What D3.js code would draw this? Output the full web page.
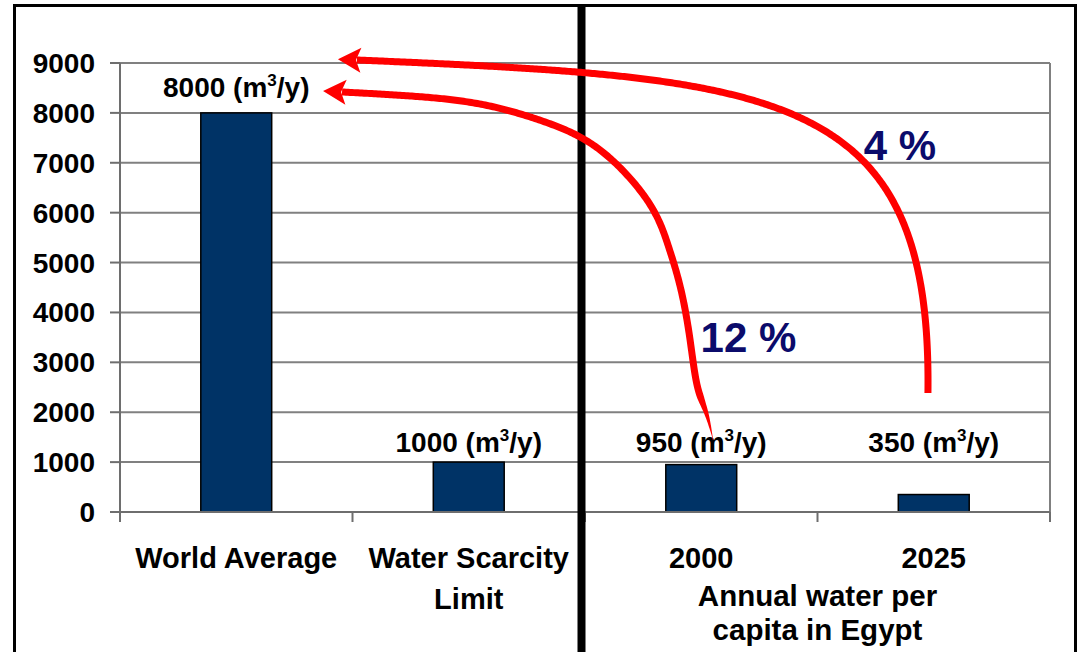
<!DOCTYPE html>
<html>
<head>
<meta charset="utf-8">
<script src="https://cdn.jsdelivr.net/npm/d3@7"></script>
<style>
  html, body { margin: 0; padding: 0; background: #ffffff; }
  svg { display: block; }
  text { font-family: "Liberation Sans", Arial, Helvetica, sans-serif; font-weight: bold; }
</style>
</head>
<body>
<svg id="chart" width="1078" height="652"></svg>
<script>
// ---- data ----
const categories = ["World Average", "Water Scarcity Limit", "2000", "2025"];
const categoryLines = [["World Average"], ["Water Scarcity", "Limit"], ["2000"], ["2025"]];
const values = [8000, 1000, 950, 350];
const unitLabel = ["(m", "3", "/y)"];
const yTicks = [0, 1000, 2000, 3000, 4000, 5000, 6000, 7000, 8000, 9000];
const groupTitle = ["Annual water per", "capita in Egypt"];

// growth annotations, points as [band units from the left edge, value], tail -> head
// outer arrow: one cubic Bezier (start, control 1, control 2, end)
const arrowOuter = [[3.475, 2385], [3.492, 8500], [2.839, 8700], [1.019, 9060]];
// inner arrow: smooth curve through these points
const arrowInner = [[2.551, 1443], [2.520, 2005], [2.482, 2546], [2.452, 3448], [2.413, 4450],
  [2.357, 5352], [2.267, 6254], [2.065, 7256], [1.828, 7818], [1.548, 8178], [1.247, 8339],
  [0.955, 8419]];
const growthText = ["4 %", "12 %"];
const growthPos = [[3.355, 7056], [2.703, 3207]];

// ---- layout ----
const svg = d3.select("#chart");
const plot = { left: 120, right: 1050, top: 63, bottom: 512 };

const x = d3.scaleBand().domain(categories).range([plot.left, plot.right]).padding(0);
const y = d3.scaleLinear().domain([0, 9000]).range([plot.bottom, plot.top]);
const ax = u => plot.left + u * x.step();

const gridColor = "#808080";
const axisColor = "#6e6e6e";
const barColor = "#003366";
const navy = "#0b0b6b";
const red = "#ff0000";

// outer frame (open at the bottom)
svg.append("path")
  .attr("d", "M14.5,660 V5.5 H1075.5 V660")
  .attr("fill", "none").attr("stroke", "#000").attr("stroke-width", 3);

// horizontal gridlines
svg.append("g").selectAll("line").data(yTicks).join("line")
  .attr("x1", plot.left).attr("x2", plot.right)
  .attr("y1", d => y(d)).attr("y2", d => y(d))
  .attr("stroke", gridColor).attr("stroke-width", 2);

// right edge of plot area
svg.append("line")
  .attr("x1", plot.right).attr("x2", plot.right)
  .attr("y1", plot.top).attr("y2", plot.bottom + 10)
  .attr("stroke", gridColor).attr("stroke-width", 2);

// bars
const barW = x.bandwidth() * 0.305;
svg.append("g").selectAll("rect").data(values).join("rect")
  .attr("x", (d, i) => x(categories[i]) + (x.bandwidth() - barW) / 2)
  .attr("y", d => y(d))
  .attr("width", barW)
  .attr("height", d => y(0) - y(d))
  .attr("fill", barColor)
  .attr("stroke", "#000").attr("stroke-width", 1.5);

// y axis
const gy = svg.append("g");
gy.append("line").attr("x1", plot.left).attr("x2", plot.left)
  .attr("y1", plot.top).attr("y2", plot.bottom + 10)
  .attr("stroke", axisColor).attr("stroke-width", 2);
gy.selectAll("line.tick").data(yTicks).join("line").attr("class", "tick")
  .attr("x1", plot.left - 10).attr("x2", plot.left)
  .attr("y1", d => y(d)).attr("y2", d => y(d))
  .attr("stroke", axisColor).attr("stroke-width", 2);
gy.selectAll("text").data(yTicks).join("text")
  .attr("x", 95).attr("y", d => y(d) + 10)
  .attr("text-anchor", "end").attr("font-size", 28).attr("fill", "#000")
  .text(d => d);

// x axis
const gx = svg.append("g");
gx.append("line").attr("x1", plot.left - 10).attr("x2", plot.right)
  .attr("y1", y(0)).attr("y2", y(0))
  .attr("stroke", axisColor).attr("stroke-width", 2);
const boundaries = categories.map(c => x(c)).concat([plot.right]);
gx.selectAll("line.tick").data(boundaries).join("line").attr("class", "tick")
  .attr("x1", d => d).attr("x2", d => d)
  .attr("y1", y(0)).attr("y2", y(0) + 10)
  .attr("stroke", axisColor).attr("stroke-width", 2);

// category labels
gx.selectAll("text.cat").data(categories).join("text").attr("class", "cat")
  .attr("text-anchor", "middle").attr("font-size", 29).attr("fill", "#000")
  .each(function (c, i) {
    const t = d3.select(this);
    categoryLines[i].forEach((line, k) => {
      t.append("tspan")
        .attr("x", x(c) + x.bandwidth() / 2)
        .attr("y", 568 + k * 41)
        .text(line);
    });
  });

// group title under the Egypt categories
const gt = svg.append("text")
  .attr("text-anchor", "middle").attr("font-size", 29.5).attr("fill", "#000");
groupTitle.forEach((line, k) => {
  gt.append("tspan").attr("x", x("2025")).attr("y", 606 + k * 34).text(line);
});

// divider between world reference and Egypt
svg.append("line")
  .attr("x1", 581.5).attr("x2", 581.5).attr("y1", 5).attr("y2", 652)
  .attr("stroke", "#000").attr("stroke-width", 8);

// value labels
svg.append("g").selectAll("text").data(values).join("text")
  .attr("text-anchor", "middle").attr("font-size", 28).attr("fill", "#000")
  .attr("x", (d, i) => x(categories[i]) + x.bandwidth() / 2)
  .attr("y", d => y(Math.max(d, 1000)) - (d > 1000 ? 16 : 10))
  .each(function (d) {
    const t = d3.select(this);
    t.append("tspan").text(d + " " + unitLabel[0]);
    t.append("tspan").attr("font-size", 17).attr("dy", -11).text(unitLabel[1]);
    t.append("tspan").attr("dy", 11).text(unitLabel[2]);
  });

// growth labels
svg.append("g").selectAll("text").data(growthText).join("text")
  .attr("text-anchor", "middle").attr("font-size", 42).attr("fill", navy)
  .attr("x", (d, i) => ax(growthPos[i][0]))
  .attr("y", (d, i) => y(growthPos[i][1]))
  .text(d => d);

// ---- curved arrows ----
const toPx = d => [ax(d[0]), y(d[1])];
const outerPath = (() => {
  const [p0, c1, c2, p1] = arrowOuter.map(toPx);
  const p = d3.path();
  p.moveTo(p0[0], p0[1]);
  p.bezierCurveTo(c1[0], c1[1], c2[0], c2[1], p1[0], p1[1]);
  return p.toString();
})();
const innerPath = d3.line().x(d => ax(d[0])).y(d => y(d[1])).curve(d3.curveNatural)(arrowInner);

const arrowLayer = svg.append("g");

function drawArrow(pathString, width, taperLen) {
  const probe = arrowLayer.append("path").attr("d", pathString).attr("fill", "none");
  const node = probe.node();
  const len = node.getTotalLength();
  const n = Math.ceil(len / 2);
  const pts = d3.range(n + 1).map(i => {
    const p = node.getPointAtLength(len * i / n);
    return [p.x, p.y, len * i / n];
  });
  probe.remove();

  // outline with optional taper toward the tail
  const left = [], right = [];
  pts.forEach((p, i) => {
    const a = pts[Math.max(0, i - 1)], b = pts[Math.min(pts.length - 1, i + 1)];
    let dx = b[0] - a[0], dy = b[1] - a[1];
    const m = Math.hypot(dx, dy) || 1;
    dx /= m; dy /= m;
    let w = width;
    if (taperLen > 0 && p[2] < taperLen) w = Math.max(0.6, width * p[2] / taperLen);
    left.push([p[0] - dy * w / 2, p[1] + dx * w / 2]);
    right.push([p[0] + dy * w / 2, p[1] - dx * w / 2]);
  });
  const outline = left.concat(right.reverse());
  arrowLayer.append("path")
    .attr("d", d3.line()(outline) + "Z")
    .attr("fill", red);

  // stealth head at the leading end
  const end = pts[pts.length - 1];
  const back = pts[Math.max(0, pts.length - 6)];
  const ang = Math.atan2(end[1] - back[1], end[0] - back[0]) * 180 / Math.PI;
  arrowLayer.append("path")
    .attr("d", "M19,0 L-4,-12.5 L1,0 L-4,12.5 Z")
    .attr("transform", `translate(${end[0]},${end[1]}) rotate(${ang})`)
    .attr("fill", red);
}

drawArrow(outerPath, 7, 0);
drawArrow(innerPath, 7, 45);
</script>
</body>
</html>
